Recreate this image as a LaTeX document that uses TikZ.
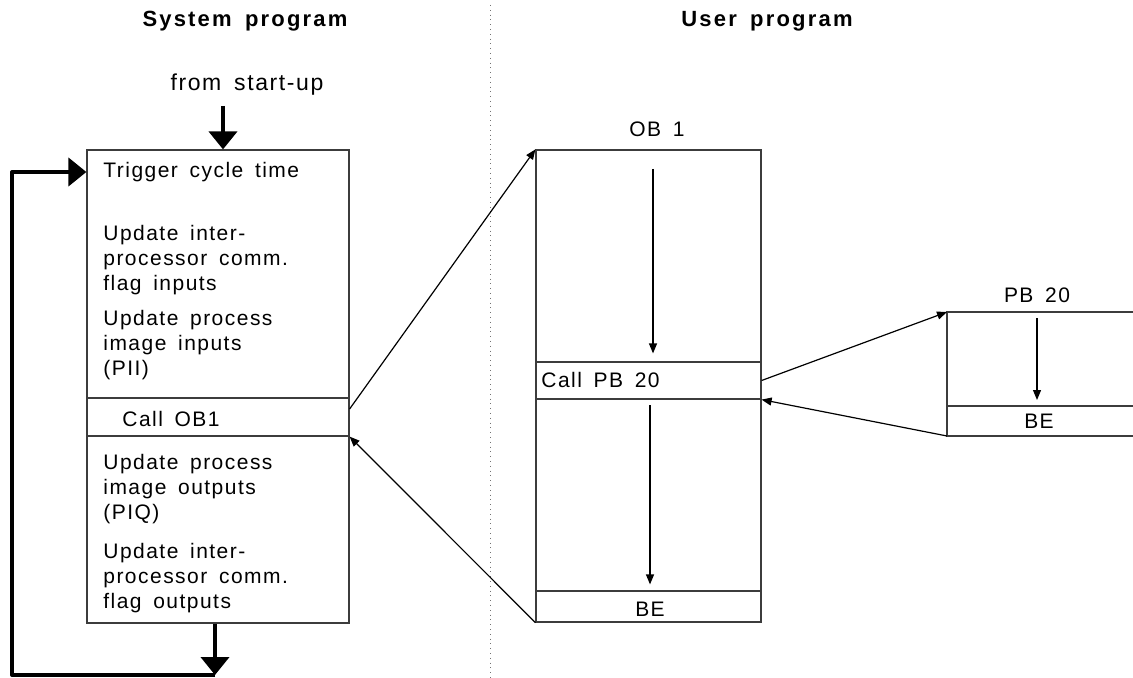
\documentclass[tikz,border=0pt]{standalone}
\usepackage{fontspec}
\setmainfont{Liberation Sans}[LetterSpace=7,WordSpace=1.6]
\usepackage{tikz}
\usetikzlibrary{arrows.meta}
\definecolor{boxgray}{RGB}{60,60,60}

\begin{document}
\begin{tikzpicture}[x=0.5pt, y=-0.5pt,
    box/.style={draw=boxgray, line width=0.6pt, inner sep=0pt},
    lbl/.style={inner sep=0pt, font=\fontsize{10.5pt}{12.5pt}\selectfont},
    ttl/.style={lbl, anchor=base, font=\fontsize{11pt}{13pt}\selectfont\bfseries\addfontfeatures{LetterSpace=10}},
    blk/.style={lbl, anchor=north west, align=left},
    arr/.style={line width=0.6pt, -{Triangle[length=5pt,width=4pt]}},
    fat/.style={line width=2pt, line join=round, -{Triangle[length=9pt,width=14pt]}}]
    \useasboundingbox (0,0) rectangle (1133,678);

    % Titles and divider
    \node[ttl] (systitle) at (245,27) {System program};
    \node[ttl] (usrtitle) at (767,27) {User program};
    \draw[dotted, black!55] (490,5) -- (490,678);

    % System program box
    \node[box, minimum width=131pt, minimum height=236.5pt] (sysbox) at (218,386.5) {};
    \node[box, minimum width=131pt, minimum height=19pt] (callob) at (218,417) {};
    \node[lbl, anchor=base west] (callobtxt) at (122,426) {Call OB1};
    \node[blk] (trig) at (103,162) {Trigger cycle time};
    \node[blk] (ipcin) at (103,225) {Update inter-\\processor comm.\\flag inputs};
    \node[blk] (pii) at (103,310) {Update process\\image inputs\\(PII)};
    \node[blk] (piq) at (103,454) {Update process\\image outputs\\(PIQ)};
    \node[blk] (ipcout) at (103,543) {Update inter-\\processor comm.\\flag outputs};

    % Start-up and cycle loop
    \node[lbl, anchor=base, font=\fontsize{11.5pt}{13pt}\selectfont] (startup) at (247,91) {from start-up};
    \coordinate (st) at (223,106);
    \draw[fat] (st) -- (st |- sysbox.north);
    \coordinate (dn) at (215,675);
    \coordinate (lp) at (12,172);
    \draw[fat] (dn |- sysbox.south) -- (dn);
    \draw[fat] (dn) -| (lp) -- (lp -| sysbox.west);

    % OB 1 box
    \node[lbl, anchor=base] (ob1title) at (657,137) {OB 1};
    \node[box, minimum width=112.5pt, minimum height=236pt] (ob1box) at (648.5,386) {};
    \node[box, minimum width=112.5pt, minimum height=18.5pt] (callpb) at (648.5,380.5) {};
    \node[box, minimum width=112.5pt, minimum height=15.5pt] (be1) at (648.5,606.5) {};
    \node[lbl, anchor=base west] (callpbtxt) at (541,387) {Call PB 20};
    \node[lbl, anchor=base] (be1txt) at (650,616) {BE};
    \coordinate (a1) at (653,169);
    \draw[arr, shorten >=4pt] (a1) -- (a1 |- callpb.north);
    \coordinate (a2) at (650,405);
    \draw[arr, shorten >=3pt] (a2) -- (a2 |- be1.north);

    % PB 20 box (open to the right)
    \node[lbl, anchor=base] (pbtitle) at (1037,302) {PB 20};
    \coordinate (pbtop) at (947,312);
    \coordinate (pbmid) at (947,406);
    \coordinate (pbbot) at (947,436);
    \draw[box] (1133,312) -- (pbtop) -- (pbbot) -- (1133,436);
    \draw[box] (pbmid) -- (1133,406);
    \node[lbl, anchor=base] (be2txt) at (1039,428) {BE};
    \coordinate (a3) at (1037,318);
    \draw[arr, shorten >=3pt] (a3) -- (a3 |- pbmid);

    % Calls and returns
    \draw[arr] ([yshift=4pt]callob.east) -- (ob1box.north west);
    \draw[arr] (be1.south west) -- (callob.south east);
    \draw[arr] (callpb.east) -- (pbtop);
    \draw[arr] (pbbot) -- (callpb.south east);
\end{tikzpicture}
\end{document}
